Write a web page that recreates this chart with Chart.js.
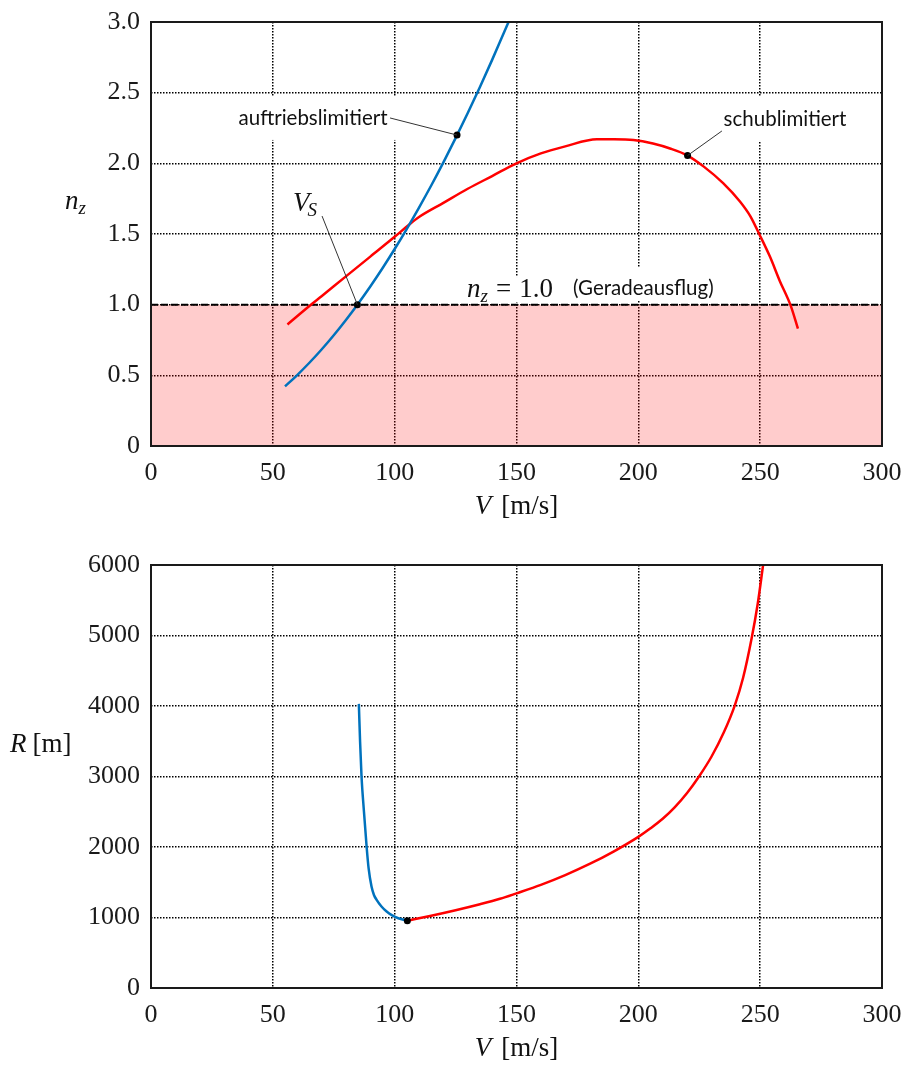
<!DOCTYPE html>
<html>
<head>
<meta charset="utf-8">
<script src="https://cdn.jsdelivr.net/npm/chart.js@4.4.0/dist/chart.umd.min.js"></script>
<style>
    body { margin: 0; background: #fff; }
    .feld { position: absolute; left: 0; width: 905px; }
</style>
</head>
<body>
<div class="feld" style="top:0;height:540px"><canvas id="lastvielfaches" width="905" height="540"></canvas></div>
<div class="feld" style="top:540px;height:533px"><canvas id="kurvenradius" width="905" height="533"></canvas></div>
<script>
// Lastvielfaches n_z ueber V (oben)
var vAuftrieb = [55, 60, 65, 70, 75, 80, 84.7, 90, 95, 100, 105, 110, 115, 120, 125, 130, 135, 140, 145, 147];
var nzAuftrieb = [0.422, 0.502, 0.589, 0.683, 0.784, 0.892, 1.0, 1.129, 1.258, 1.394, 1.537, 1.687, 1.843, 2.007, 2.178, 2.356, 2.540, 2.732, 2.931, 3.01];

var vSchub = [56, 65, 70, 80, 90, 100, 105.5, 110, 120, 130, 140, 150, 160, 170, 183, 190, 198, 206, 213, 220.2, 227, 234.8, 241.7, 246, 249.6, 254, 258, 262.6, 265.5];
var nzSchub = [0.86, 0.99, 1.06, 1.20, 1.34, 1.48, 1.56, 1.62, 1.72, 1.82, 1.91, 2.00, 2.07, 2.12, 2.17, 2.17, 2.165, 2.14, 2.105, 2.055, 1.975, 1.86, 1.73, 1.625, 1.50, 1.34, 1.17, 0.99, 0.83];

var vGeradeaus = [0, 300];
var nzGeradeaus = [1.0, 1.0];

var vPunkteOben = [84.7, 125.6, 220.2];
var nzPunkteOben = [1.0, 2.2, 2.055];

// Kurvenradius R ueber V (unten)
var vRadiusAuftrieb = [85.3, 85.8, 86.4, 87.4, 88.5, 89.3, 90.5, 91.5, 92.6, 94.5, 96.7, 99, 101.5, 105.2];
var radiusAuftrieb = [4030, 3500, 3000, 2500, 2000, 1700, 1440, 1320, 1250, 1160, 1085, 1030, 990, 955];

var vRadiusSchub = [105.2, 115, 125, 135, 143.2, 150, 160, 170, 180, 190, 200, 205, 210, 215, 220, 224.9, 230, 235, 239.6, 243, 246.5, 249, 251.2];
var radiusSchub = [955, 1025, 1103, 1188, 1265, 1343, 1463, 1601, 1759, 1939, 2144, 2265, 2400, 2565, 2765, 3000, 3280, 3620, 4010, 4400, 4960, 5450, 6000];

var vPunktUnten = [105.2];
var radiusPunktUnten = [955];

// Achsen
var vTicks = [0, 50, 100, 150, 200, 250, 300];
var vTickLabels = ["0", "50", "100", "150", "200", "250", "300"];
var nzTicks = [0, 0.5, 1.0, 1.5, 2.0, 2.5, 3.0];
var nzTickLabels = ["0", "0.5", "1.0", "1.5", "2.0", "2.5", "3.0"];
var radiusTicks = [0, 1000, 2000, 3000, 4000, 5000, 6000];
var radiusTickLabels = ["0", "1000", "2000", "3000", "4000", "5000", "6000"];

//===============================================================
var serif = '"Liberation Serif", serif';
var sans = 'Lato, "Open Sans", sans-serif';
var fMath = "italic 27px " + serif;
var fSub = "italic 19px " + serif;
var fRoman = "27px " + serif;
var fSans = "20.5px " + sans;
var blau = "#0072BD";
var rot = "#FF0000";

function punkte(xs, ys) {
    return xs.map(function (x, i) {
        return { x: x, y: ys[i] };
    });
}

function breite(ctx, teile) {
    var w = 0;
    teile.forEach(function (t) {
        ctx.font = t.f;
        w += ctx.measureText(t.t).width + (t.dx || 0);
    });
    return w;
}

function schreibe(ctx, x, y, teile) {
    ctx.fillStyle = "#111";
    ctx.textBaseline = "alphabetic";
    ctx.textAlign = "left";
    teile.forEach(function (t) {
        ctx.font = t.f;
        ctx.fillText(t.t, x, y + (t.dy || 0));
        x += ctx.measureText(t.t).width + (t.dx || 0);
    });
}

function linie(ctx, x1, y1, x2, y2) {
    ctx.save();
    ctx.strokeStyle = "#333";
    ctx.lineWidth = 1;
    ctx.beginPath();
    ctx.moveTo(x1, y1);
    ctx.lineTo(x2, y2);
    ctx.stroke();
    ctx.restore();
}

function skala(ticks, labels, min, max, groesse, istX) {
    return {
        type: "linear",
        min: min,
        max: max,
        afterBuildTicks: function (s) {
            s.ticks = ticks.map(function (v) { return { value: v }; });
        },
        afterFit: function (s) {
            if (istX) s.height = groesse; else s.width = groesse;
            s.paddingLeft = 0;
            s.paddingRight = 0;
            s.paddingTop = 0;
            s.paddingBottom = 0;
        },
        ticks: {
            padding: istX ? 12 : 11,
            color: "#1a1a1a",
            font: { family: serif, size: 26 },
            maxRotation: 0,
            callback: function (v) {
                var i = ticks.indexOf(v);
                return i >= 0 ? labels[i] : "";
            },
        },
        grid: { color: "#000", lineWidth: 1.5, drawTicks: false },
        border: { display: false, dash: [1.5, 1.5] },
    };
}

// Rahmen und Achsentitel
function rahmenPlugin(yTitel) {
    return {
        id: "rahmen",
        afterDraw: function (chart) {
            var ctx = chart.ctx;
            var a = chart.chartArea;
            ctx.save();
            ctx.strokeStyle = "#1a1a1a";
            ctx.lineWidth = 2;
            ctx.strokeRect(a.left, a.top, a.right - a.left, a.bottom - a.top);
            var xt = [{ t: "V", f: fMath, dx: 10 }, { t: "[m/s]", f: fRoman }];
            schreibe(ctx, (a.left + a.right) / 2 - breite(ctx, xt) / 2, a.bottom + 68, xt);
            schreibe(ctx, yTitel.x, a.top + 187, yTitel.teile);
            ctx.restore();
        },
    };
}

// Beschriftungen oben
var beschriftungOben = {
    id: "beschriftung",
    beforeDatasetsDraw: function (chart) {
        var ctx = chart.ctx, sx = chart.scales.x, sy = chart.scales.y;
        ctx.save();
        ctx.fillStyle = "#fff";
        ctx.font = fSans;
        var p = { x: sx.getPixelForValue(66.5), y: sy.getPixelForValue(2.314) };
        var w = ctx.measureText("auftriebslimitiert").width;
        ctx.fillRect(p.x - w / 2 - 10, p.y - 23, w + 20, 44);
        p = { x: sx.getPixelForValue(260.2), y: sy.getPixelForValue(2.307) };
        w = ctx.measureText("schublimitiert").width;
        ctx.fillRect(p.x - w / 2 - 10, p.y - 23, w + 20, 44);
        p = { x: sx.getPixelForValue(129.7), y: sy.getPixelForValue(1.054) };
        ctx.fillRect(p.x - 7, p.y - 20, 108, 25);
        p = { x: sx.getPixelForValue(173.2), y: sy.getPixelForValue(1.111) };
        w = ctx.measureText("(Geradeausflug)").width;
        ctx.fillRect(p.x - 7, p.y - 22, w + 14, 34);
        ctx.restore();
    },
    afterDatasetsDraw: function (chart) {
        var ctx = chart.ctx, sx = chart.scales.x, sy = chart.scales.y;
        ctx.save();
        linie(ctx, sx.getPixelForValue(98.1), sy.getPixelForValue(2.321), sx.getPixelForValue(125.6), sy.getPixelForValue(2.2));
        linie(ctx, sx.getPixelForValue(234.3), sy.getPixelForValue(2.229), sx.getPixelForValue(220.2), sy.getPixelForValue(2.055));
        linie(ctx, sx.getPixelForValue(70.2), sy.getPixelForValue(1.627), sx.getPixelForValue(84.7), sy.getPixelForValue(1.0));

        var t = [{ t: "auftriebslimitiert", f: fSans }];
        schreibe(ctx, sx.getPixelForValue(66.5) - breite(ctx, t) / 2, sy.getPixelForValue(2.314) + 6, t);
        t = [{ t: "schublimitiert", f: fSans }];
        schreibe(ctx, sx.getPixelForValue(260.2) - breite(ctx, t) / 2, sy.getPixelForValue(2.307) + 6, t);
        schreibe(ctx, sx.getPixelForValue(58.3), sy.getPixelForValue(1.663), [
            { t: "V", f: fMath, dx: -2 },
            { t: "S", f: fSub, dy: 5 },
        ]);
        schreibe(ctx, sx.getPixelForValue(129.7), sy.getPixelForValue(1.054), [
            { t: "n", f: fMath },
            { t: "z", f: fSub, dy: 5, dx: 8 },
            { t: "=", f: fRoman, dx: 8 },
            { t: "1.0", f: fRoman },
        ]);
        schreibe(ctx, sx.getPixelForValue(173.2), sy.getPixelForValue(1.111) + 6, [
            { t: "(Geradeausflug)", f: fSans },
        ]);
        ctx.restore();
    },
};

var linienStil = { showLine: true, pointRadius: 0, borderWidth: 2.5, cubicInterpolationMode: "monotone", fill: false };

//Chart oben: Lastvielfaches
var chartOben = new Chart(document.getElementById("lastvielfaches"), {
    type: "scatter",
    data: {
        datasets: [
            {
                label: "Punkte",
                data: punkte(vPunkteOben, nzPunkteOben),
                pointRadius: 3.5,
                pointBackgroundColor: "#000",
                pointBorderWidth: 0,
                showLine: false,
            },
            Object.assign({ label: "auftriebslimitiert", data: punkte(vAuftrieb, nzAuftrieb), borderColor: blau }, linienStil),
            Object.assign({ label: "schublimitiert", data: punkte(vSchub, nzSchub), borderColor: rot }, linienStil),
            {
                label: "Geradeausflug",
                data: punkte(vGeradeaus, nzGeradeaus),
                showLine: true,
                pointRadius: 0,
                borderColor: "#000",
                borderWidth: 2,
                borderDash: [7, 3],
                fill: "origin",
                backgroundColor: "rgba(255, 0, 0, 0.2)",
            },
        ],
    },
    options: {
        responsive: false,
        animation: false,
        layout: { padding: { top: 22, right: 23, left: 0, bottom: 0 } },
        plugins: { legend: { display: false }, tooltip: { enabled: false } },
        scales: {
            x: skala(vTicks, vTickLabels, 0, 300, 94, true),
            y: skala(nzTicks, nzTickLabels, 0, 3, 151, false),
        },
    },
    plugins: [beschriftungOben, rahmenPlugin({ x: 65, teile: [{ t: "n", f: fMath }, { t: "z", f: fSub, dy: 5 }] })],
});

//Chart unten: Kurvenradius
var chartUnten = new Chart(document.getElementById("kurvenradius"), {
    type: "scatter",
    data: {
        datasets: [
            {
                label: "Punkt",
                data: punkte(vPunktUnten, radiusPunktUnten),
                pointRadius: 3.5,
                pointBackgroundColor: "#000",
                pointBorderWidth: 0,
                showLine: false,
            },
            Object.assign({ label: "auftriebslimitiert", data: punkte(vRadiusAuftrieb, radiusAuftrieb), borderColor: blau }, linienStil),
            Object.assign({ label: "schublimitiert", data: punkte(vRadiusSchub, radiusSchub), borderColor: rot }, linienStil),
        ],
    },
    options: {
        responsive: false,
        animation: false,
        layout: { padding: { top: 25, right: 23, left: 0, bottom: 0 } },
        plugins: { legend: { display: false }, tooltip: { enabled: false } },
        scales: {
            x: skala(vTicks, vTickLabels, 0, 300, 85, true),
            y: skala(radiusTicks, radiusTickLabels, 0, 6000, 151, false),
        },
    },
    plugins: [rahmenPlugin({ x: 10, teile: [{ t: "R", f: fMath, dx: 6 }, { t: "[m]", f: fRoman }] })],
});
</script>
</body>
</html>
